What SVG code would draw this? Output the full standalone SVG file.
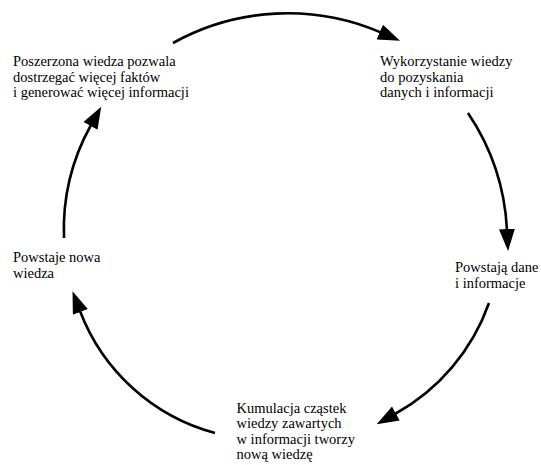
<svg xmlns="http://www.w3.org/2000/svg" width="541" height="465" viewBox="0 0 541 465">
  <style>
    .label { font-family: "Liberation Serif", "Times New Roman", serif; font-size: 14.5px; fill: #000; }
    .arc { fill: none; stroke: #000; stroke-width: 2.6; stroke-linecap: butt; }
  </style>
  <defs>
    <marker id="head" markerUnits="userSpaceOnUse" viewBox="0 0 22 16" markerWidth="22" markerHeight="16" refX="1" refY="8" orient="auto">
      <path d="M0,0 L22,8 L0,16 Z" fill="#000"/>
    </marker>
  </defs>
  <rect width="541" height="465" fill="#fff"/>

  <!-- cycle arrows -->
  <g id="connectors">
    <path class="arc" d="M173,43 A236,236 0 0,1 380.7,32.4" marker-end="url(#head)"/>
    <path class="arc" d="M468,113 A230,230 0 0,1 507,230" marker-end="url(#head)"/>
    <path class="arc" d="M489,303 A205,205 0 0,1 395,414" marker-end="url(#head)"/>
    <path class="arc" d="M215,433 A200,200 0 0,1 80,311" marker-end="url(#head)"/>
    <path class="arc" d="M64,238 A215,215 0 0,1 91,125" marker-end="url(#head)"/>
  </g>

  <g id="node-poszerzona">
    <text class="label" x="13" y="66">Poszerzona wiedza pozwala</text>
    <text class="label" x="13" y="81.5">dostrzegać więcej faktów</text>
    <text class="label" x="13" y="97">i generować więcej informacji</text>
  </g>

  <g id="node-wykorzystanie">
    <text class="label" x="380" y="66">Wykorzystanie wiedzy</text>
    <text class="label" x="380" y="81.5">do pozyskania</text>
    <text class="label" x="380" y="97">danych i informacji</text>
  </g>

  <g id="node-dane">
    <text class="label" x="455" y="272">Powstają dane</text>
    <text class="label" x="455" y="287.5">i informacje</text>
  </g>

  <g id="node-kumulacja">
    <text class="label" x="236.5" y="412.5">Kumulacja cząstek</text>
    <text class="label" x="236.5" y="428">wiedzy zawartych</text>
    <text class="label" x="236.5" y="443.5">w informacji tworzy</text>
    <text class="label" x="236.5" y="459">nową wiedzę</text>
  </g>

  <g id="node-nowa">
    <text class="label" x="13" y="262">Powstaje nowa</text>
    <text class="label" x="13" y="277.5">wiedza</text>
  </g>
</svg>
